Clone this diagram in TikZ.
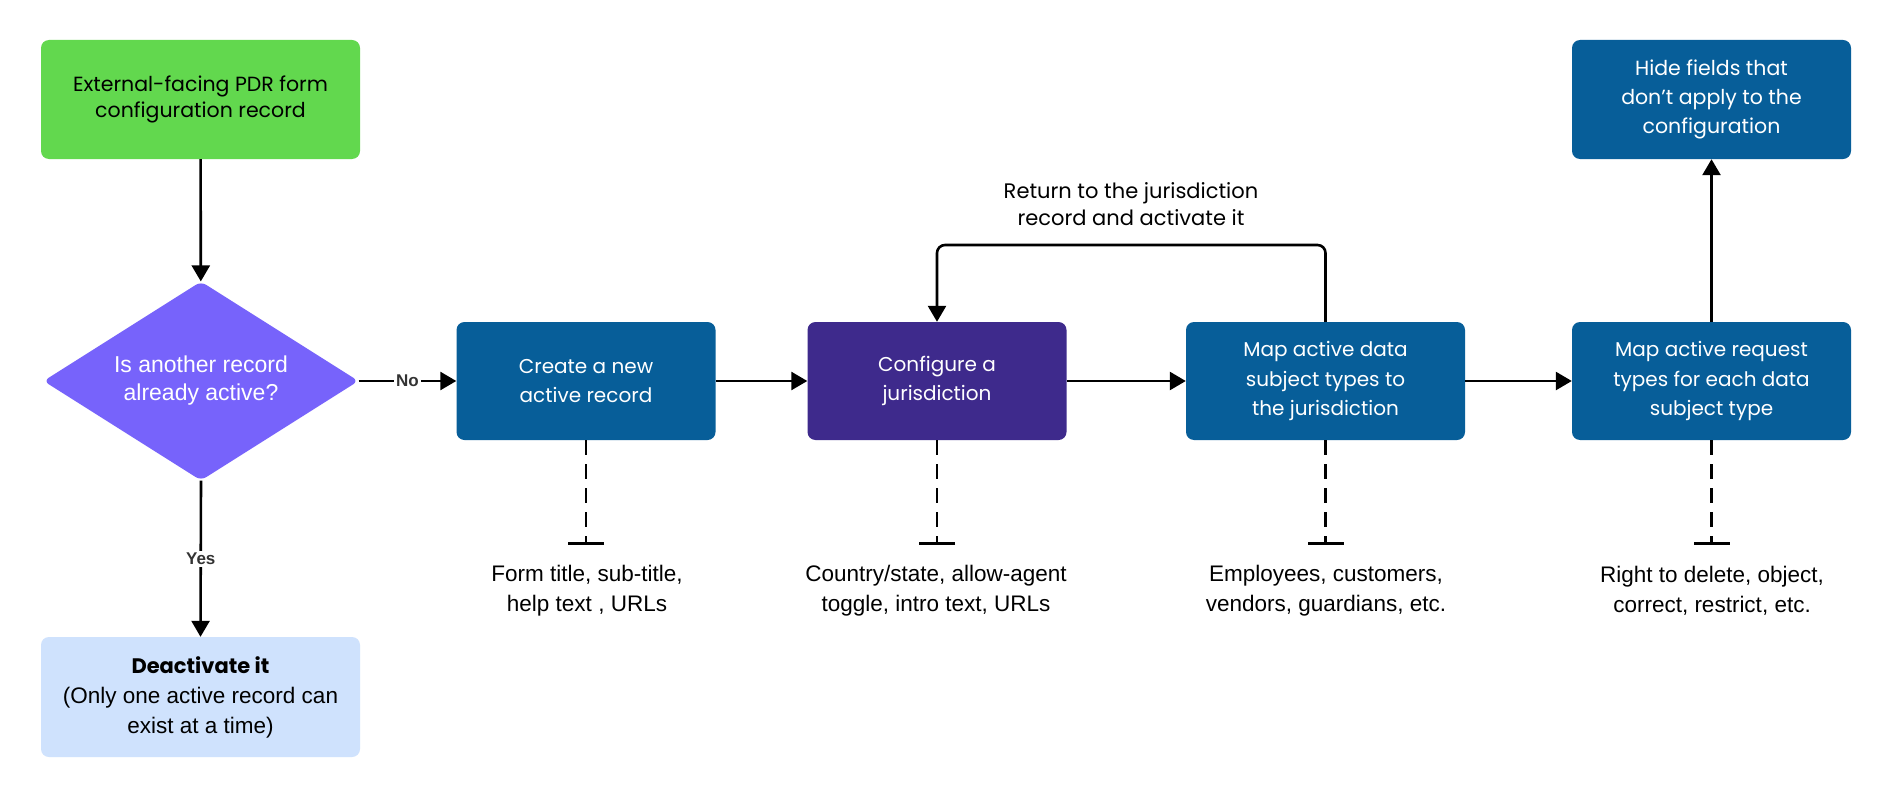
\documentclass[tikz,border=0pt]{standalone}
\usepackage{fontspec}
\setmainfont{Poppins}
\newfontfamily\arialf{Liberation Sans}
\usetikzlibrary{arrows.meta,shapes.geometric}
\definecolor{cgreen}{HTML}{62D84E}
\definecolor{cviolet}{HTML}{7763FB}
\definecolor{clight}{HTML}{CFE2FD}
\definecolor{cblue}{HTML}{075E99}
\definecolor{cpurple}{HTML}{3E2A8C}
\tikzset{
  box/.style={rectangle, rounded corners=8pt, minimum width=259pt, minimum height=118pt, align=center, text=white, font=\fontsize{20}{29.5}\selectfont, inner sep=0pt},
  bigbox/.style={box, minimum width=319pt, minimum height=119pt},
  flow/.style={line width=2.6pt, -{Triangle[length=16pt,width=18pt]}},
  dashline/.style={line width=2.6pt, dash pattern=on 15pt off 9pt, -{Bar[width=36pt,length=0pt]}},
  note/.style={align=center, font=\arialf\fontsize{22.5}{30}\selectfont},
  lbl/.style={fill=white, inner sep=2pt, font=\arialf\bfseries\fontsize{17}{17}\selectfont, text=black!80}
}
\begin{document}
\begin{tikzpicture}[x=1pt,y=-1pt]
\useasboundingbox[fill=white] (0,0) rectangle (1892,797);
\node[bigbox, fill=cgreen, text=black, font=\fontsize{20.5}{26.5}\selectfont] (start) at (200.5,99.5) {External-facing PDR form\\configuration record};
\node[diamond, fill=cviolet, text=white, minimum width=315pt, minimum height=199pt, aspect=1.58, inner sep=0pt, align=center, font=\arialf\fontsize{23}{28}\selectfont, rounded corners=6pt] (dec) at (201,381) {Is another record\\already active?};
\node[bigbox, fill=clight, text=black, font=\arialf\fontsize{22.5}{30}\selectfont, minimum height=120pt] (deact) at (200.5,697) {{\rmfamily\bfseries\fontsize{21}{30}\selectfont Deactivate it}\\(Only one active record can\\exist at a time)};
\node[box, fill=cblue] (create) at (586,381) {Create a new\\active record};
\node[box, fill=cpurple] (conf) at (937,381) {Configure a\\jurisdiction};
\node[box, fill=cblue, minimum width=279pt] (mapd) at (1325.5,381) {Map active data\\subject types to\\the jurisdiction};
\node[box, fill=cblue, minimum width=279pt] (mapr) at (1711.5,381) {Map active request\\types for each data\\subject type};
\node[box, fill=cblue, minimum width=279pt, minimum height=119pt, font=\fontsize{20.5}{29}\selectfont] (hide) at (1711.5,99.5) {Hide fields that\\don't apply to the\\configuration};

\draw[flow] (start) -- (dec);
\draw[flow] (dec.east) -- node[lbl]{No} (create.west);
\draw[flow] (dec.south) -- node[lbl, pos=0.5]{Yes} (deact.north);
\draw[flow] (create) -- (conf);
\draw[flow] (conf) -- (mapd);
\draw[flow] (mapd) -- (mapr);
\draw[flow] (mapr) -- (hide);
\draw[flow, rounded corners=8pt] (mapd.north) |- (1131,245) -| (conf.north);
\node[align=center, font=\fontsize{21}{26.5}\selectfont] (ret) at (1131,204) {Return to the jurisdiction\\record and activate it};

\coordinate (e1) at (586,545);
\coordinate (e2) at (937,545);
\coordinate (e3) at (1325.5,545);
\coordinate (e4) at (1711.5,545);
\draw[dashline] (create.south) -- (e1);
\draw[dashline] (conf.south) -- (e2);
\draw[dashline] (mapd.south) -- (e3);
\draw[dashline] (mapr.south) -- (e4);
\node[note] (n1) at (587,591) {Form title, sub-title,\\help text , URLs};
\node[note] (n2) at (936,591) {Country/state, allow-agent\\toggle, intro text, URLs};
\node[note] (n3) at (1326,591) {Employees, customers,\\vendors, guardians, etc.};
\node[note] (n4) at (1712,591) {Right to delete, object,\\correct, restrict, etc.};
\end{tikzpicture}
\end{document}
